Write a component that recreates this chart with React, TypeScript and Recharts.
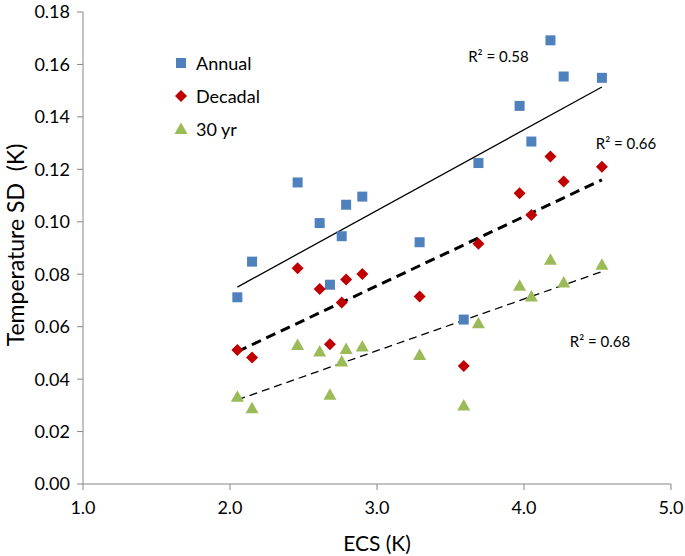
import { ComposedChart, Scatter, XAxis, YAxis, Legend, ReferenceDot } from "recharts";

// ECS of each model (K), shared by all three series
const ecs = [2.05, 2.15, 2.46, 2.61, 2.68, 2.76, 2.79, 2.9, 3.29, 3.59, 3.69, 3.97, 4.05, 4.18, 4.27, 4.53];
const annual = [0.0712, 0.0848, 0.115, 0.0995, 0.076, 0.0945, 0.1065, 0.1096, 0.0922, 0.0627, 0.1224, 0.1442, 0.1306, 0.1692, 0.1554, 0.1549];
const decadal = [0.0511, 0.0482, 0.0823, 0.0744, 0.0533, 0.0692, 0.078, 0.0801, 0.0715, 0.045, 0.0916, 0.1109, 0.1026, 0.1249, 0.1154, 0.121];
const thirtyYr = [0.0333, 0.0289, 0.053, 0.0505, 0.034, 0.0467, 0.0515, 0.0524, 0.0492, 0.0299, 0.0613, 0.0756, 0.0715, 0.0855, 0.0768, 0.0836];

// linear trend end points
const trendX = [2.05, 4.53];
const annualTrend = [0.0751, 0.1514];
const decadalTrend = [0.0505, 0.116];
const thirtyYrTrend = [0.0321, 0.081];

const xTicks = [1, 2, 3, 4, 5];
const yTicks = [0, 0.02, 0.04, 0.06, 0.08, 0.1, 0.12, 0.14, 0.16, 0.18];
const seriesNames = ["Annual", "Decadal", "30 yr"];
const r2Labels = ["R² = 0.58", "R² = 0.66", "R² = 0.68"];

const toPoints = (xs: number[], ys: number[]) => xs.map((x, i) => ({ x, y: ys[i] }));

const BLUE = "#4F81BD";
const RED = "#C00000";
const GREEN = "#9BBB59";
const FONT = "Lato, 'Open Sans', sans-serif";

const Square = ({ cx, cy }: any) => <rect x={cx - 5} y={cy - 5} width={10} height={10} fill={BLUE} />;
const Diamond = ({ cx, cy }: any) => (
  <path d={`M${cx},${cy - 6}L${cx + 6},${cy}L${cx},${cy + 6}L${cx - 6},${cy}Z`} fill={RED} />
);
const Triangle = ({ cx, cy }: any) => (
  <path d={`M${cx},${cy - 6.5}L${cx + 6.5},${cy + 5}L${cx - 6.5},${cy + 5}Z`} fill={GREEN} />
);
const NoShape = () => <g />;

const legendIcons = [
  <rect x={2} y={2} width={10} height={10} fill={BLUE} />,
  <path d="M7,1L13,7L7,13L1,7Z" fill={RED} />,
  <path d="M7,0.5L13.5,12L0.5,12Z" fill={GREEN} />,
];

const LegendBox = () => (
  <div style={{ fontFamily: FONT, fontSize: 18, color: "#000" }}>
    {seriesNames.map((name, i) => (
      <div key={name} style={{ display: "flex", alignItems: "center", height: 33 }}>
        <svg width={14} height={14} style={{ marginRight: 8 }}>
          {legendIcons[i]}
        </svg>
        <span>{name}</span>
      </div>
    ))}
  </div>
);

const r2Label = (text: string) => (props: any) => {
  const { viewBox } = props;
  const cx = viewBox.x + viewBox.width / 2;
  const cy = viewBox.y + viewBox.height / 2;
  return (
    <text x={cx} y={cy} textAnchor="middle" dominantBaseline="central" fontFamily={FONT} fontSize={15} fill="#000">
      {text}
    </text>
  );
};

const YTitle = (props: any) => {
  const { viewBox } = props;
  const x = viewBox.x + 15;
  const y = viewBox.y + viewBox.height / 2 - 3;
  return (
    <text x={x} y={y} transform={`rotate(-90, ${x}, ${y})`} textAnchor="middle" dominantBaseline="central" fontFamily={FONT} fontSize={23} fill="#000">
      {"Temperature SD\u00a0 (K)"}
    </text>
  );
};

const axisTick = { fill: "#000", fontSize: 18, fontFamily: FONT };

export default function App() {
  return (
    <div style={{ position: "absolute", left: 0, top: 0, background: "#fff" }}>
      <ComposedChart width={685} height={556} margin={{ top: 12, right: 14, bottom: 0, left: 0 }}>
        <XAxis
          type="number"
          dataKey="x"
          domain={[1, 5]}
          ticks={xTicks}
          tickFormatter={(v: number) => v.toFixed(1)}
          tick={axisTick}
          tickSize={6}
          tickMargin={11}
          height={72}
          stroke="#868686"
          label={{ value: "ECS (K)", position: "insideBottom", offset: 5, fontSize: 21, fontFamily: FONT, fill: "#000" }}
        />
        <XAxis xAxisId="top" orientation="top" type="number" domain={[1, 5]} tick={false} tickLine={false} height={0} stroke="#404040" />
        <YAxis
          type="number"
          dataKey="y"
          domain={[0, 0.18]}
          ticks={yTicks}
          tickFormatter={(v: number) => v.toFixed(2)}
          tick={axisTick}
          tickSize={6}
          tickMargin={7}
          width={83}
          stroke="#868686"
          label={<YTitle />}
        />
        <YAxis yAxisId="right" orientation="right" type="number" domain={[0, 0.18]} tick={false} tickLine={false} width={0} stroke="#404040" />
        <Legend
          layout="vertical"
          align="center"
          verticalAlign="middle"
          wrapperStyle={{ left: 174, top: 46, width: 120 }}
          content={() => <LegendBox />}
        />

        <Scatter data={toPoints(trendX, annualTrend)} line={{ stroke: "#000", strokeWidth: 1.3 }} shape={NoShape} legendType="none" isAnimationActive={false} />
        <Scatter data={toPoints(trendX, decadalTrend)} line={{ stroke: "#000", strokeWidth: 3, strokeDasharray: "10 6" }} shape={NoShape} legendType="none" isAnimationActive={false} />
        <Scatter data={toPoints(trendX, thirtyYrTrend)} line={{ stroke: "#000", strokeWidth: 1.3, strokeDasharray: "8 5" }} shape={NoShape} legendType="none" isAnimationActive={false} />

        <Scatter name="Annual" data={toPoints(ecs, annual)} shape={Square} isAnimationActive={false} />
        <Scatter name="Decadal" data={toPoints(ecs, decadal)} shape={Diamond} isAnimationActive={false} />
        <Scatter name="30 yr" data={toPoints(ecs, thirtyYr)} shape={Triangle} isAnimationActive={false} />

        <ReferenceDot x={3.826} y={0.1633} r={1} fill="none" stroke="none" label={r2Label(r2Labels[0])} />
        <ReferenceDot x={4.694} y={0.1302} r={1} fill="none" stroke="none" label={r2Label(r2Labels[1])} />
        <ReferenceDot x={4.517} y={0.0547} r={1} fill="none" stroke="none" label={r2Label(r2Labels[2])} />
      </ComposedChart>
    </div>
  );
}
